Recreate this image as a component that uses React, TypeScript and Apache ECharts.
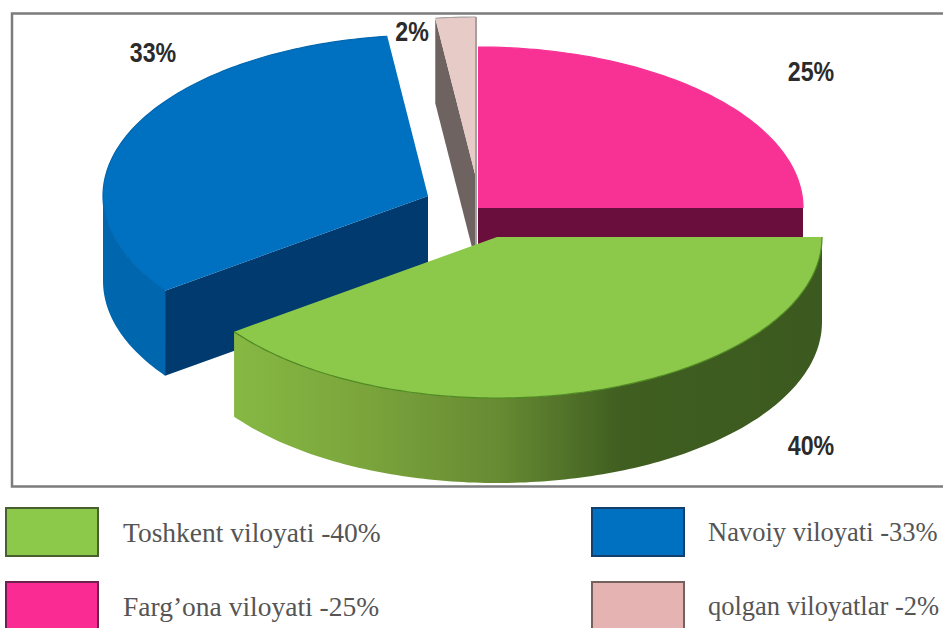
import React, { useEffect, useRef } from "react";
import * as echarts from "echarts";

// Data, clockwise from the 3 o'clock position
const sliceNames = ["Toshkent viloyati", "Navoiy viloyati", "qolgan viloyatlar", "Farg\u2019ona viloyati"];
const sliceValues = [40, 33, 2, 25];
const valueLabels = ["40%", "33%", "2%", "25%"];

// Legend reading order
const legendEntries = ["Toshkent viloyati -40%", "Navoiy viloyati -33%", "Farg\u2019ona viloyati -25%", "qolgan viloyatlar -2%"];

// Presentation
const RX = 325;
const RY = 161;
const DEPTH = 85;
const centers = [[497, 237], [428, 196], [476, 178], [478, 208]];
const topColors = ["#8cc94a", "#0070c0", "#e6cbc6", "#f83294"];
const radialWallColors = ["#3d5c1f", "#003a6e", "#6f6361", "#6a0f3d"];
const outerWallColors: any[] = [
  new echarts.graphic.LinearGradient(0, 0, 1, 0, [
    { offset: 0, color: "#86b843" },
    { offset: 0.22, color: "#7ba53c" },
    { offset: 0.45, color: "#678a33" },
    { offset: 0.66, color: "#3f5e20" },
    { offset: 1, color: "#3c5a1f" },
  ]),
  "#0066ae",
  "#6f6361",
  "#6a0f3d",
];
const rimColors = ["#4f8a22", "#0066ae", "#a8a09e", "#f83294"];
const labelCenters = [[811, 445], [153, 52], [412, 31], [811, 71]];
const legendSlots = [[6, 508], [592, 508], [6, 582], [592, 582]];
const legendSwatches = [["#8cc94a", "#4a5f30"], ["#0070c0", "#123f6c"], ["#fb2b94", "#6e2250"], ["#e6b3b3", "#76615f"]];

function rim(cx: number, cy: number, from: number, to: number, dy = 0) {
  const pts: number[][] = [];
  const n = Math.max(2, Math.ceil(Math.abs(to - from)));
  for (let i = 0; i <= n; i++) {
    const a = ((from + ((to - from) * i) / n) * Math.PI) / 180;
    pts.push([cx + RX * Math.cos(a), cy + RY * Math.sin(a) + dy]);
  }
  return pts;
}

function renderSlice(params: any, api: any) {
  const value = api.value(1) as number;
  const before = api.value(2) as number;
  const idx = api.value(0) as number;
  const total = sliceValues.reduce((s, v) => s + v, 0);
  const a0 = (before / total) * 360;
  const a1 = ((before + value) / total) * 360;
  const [cx, cy] = centers[idx];
  const children: any[] = [];
  const sinDeg = (d: number) => Math.sin((d * Math.PI) / 180);

  const radialWall = (angle: number) => {
    const p = rim(cx, cy, angle, angle)[0];
    children.push({
      type: "polygon",
      shape: { points: [[cx, cy], p, [p[0], p[1] + DEPTH], [cx, cy + DEPTH]] },
      style: { fill: radialWallColors[idx] },
    });
  };
  if (sinDeg(a0 - 90) > 0.001) radialWall(a0);
  if (sinDeg(a1 + 90) > 0.001) radialWall(a1);

  const wallEnd = Math.min(a1, 180);
  if (a0 < 180) {
    const upper = rim(cx, cy, a0, wallEnd);
    const lower = rim(cx, cy, wallEnd, a0, DEPTH);
    children.push({
      type: "polygon",
      shape: { points: upper.concat(lower) },
      style: { fill: outerWallColors[idx] },
    });
  }

  children.push({
    type: "polygon",
    shape: { points: [[cx, cy]].concat(rim(cx, cy, a0, a1)) },
    style: { fill: topColors[idx] },
  });
  children.push({
    type: "polyline",
    shape: { points: rim(cx, cy, a0, a1) },
    style: { stroke: rimColors[idx], lineWidth: 1.2, fill: "none" },
  });
  if (value <= 2) {
    const p = rim(cx, cy, a1, a1)[0];
    children.push({
      type: "line",
      shape: { x1: p[0], y1: p[1], x2: p[0], y2: cy + DEPTH },
      style: { stroke: rimColors[idx], lineWidth: 2 },
    });
  }
  return { type: "group", children };
}

export default function App() {
  const ref = useRef<HTMLDivElement>(null);
  useEffect(() => {
    if (!ref.current) return;
    document.body.style.margin = "0";
    const chart = echarts.init(ref.current, undefined, { renderer: "svg" });
    let cum = 0;
    const rows = sliceValues.map((v, i) => {
      const row = [i, v, cum];
      cum += v;
      return row;
    });
    const graphic: any[] = [
      {
        type: "rect",
        shape: { x: 12, y: 13.5, width: 960, height: 473 },
        style: { fill: "#fff", stroke: "#7c7c7c", lineWidth: 2.5 },
        z: -1,
      },
    ];
    valueLabels.forEach((t, i) => {
      graphic.push({
        type: "text",
        x: labelCenters[i][0],
        y: labelCenters[i][1],
        scaleX: 0.86,
        z: 10,
        style: {
          text: t,
          fill: "#2b2b2b",
          font: 'bold 27px "Liberation Sans", sans-serif',
          align: "center",
          verticalAlign: "middle",
        },
      });
    });
    legendEntries.forEach((t, i) => {
      const [x, y] = legendSlots[i];
      graphic.push({
        type: "rect",
        shape: { x, y, width: 92, height: 48 },
        style: { fill: legendSwatches[i][0], stroke: legendSwatches[i][1], lineWidth: 2 },
      });
      graphic.push({
        type: "text",
        x: x + (i % 2 === 0 ? 117 : 116),
        y: y + 24,
        style: {
          text: t,
          fill: "#555",
          font: (i % 2 === 0 ? "27.5px" : "26.5px") + ' "Liberation Serif", serif',
          align: "left",
          verticalAlign: "middle",
        },
      });
    });
    chart.setOption({
      animation: false,
      backgroundColor: "#fff",
      tooltip: { show: false },
      graphic,
      series: [
        {
          type: "custom",
          name: "Viloyatlar",
          coordinateSystem: "none",
          renderItem: renderSlice,
          silent: true,
          encode: { itemName: 3 },
          // drawn back to front: the last clockwise slice first
          data: rows.slice().reverse().map((r) => [...r, sliceNames[r[0]]]),
        },
      ],
    });
    return () => chart.dispose();
  }, []);
  return <div ref={ref} style={{ position: "absolute", left: 0, top: 0, width: 943, height: 628 }} />;
}
